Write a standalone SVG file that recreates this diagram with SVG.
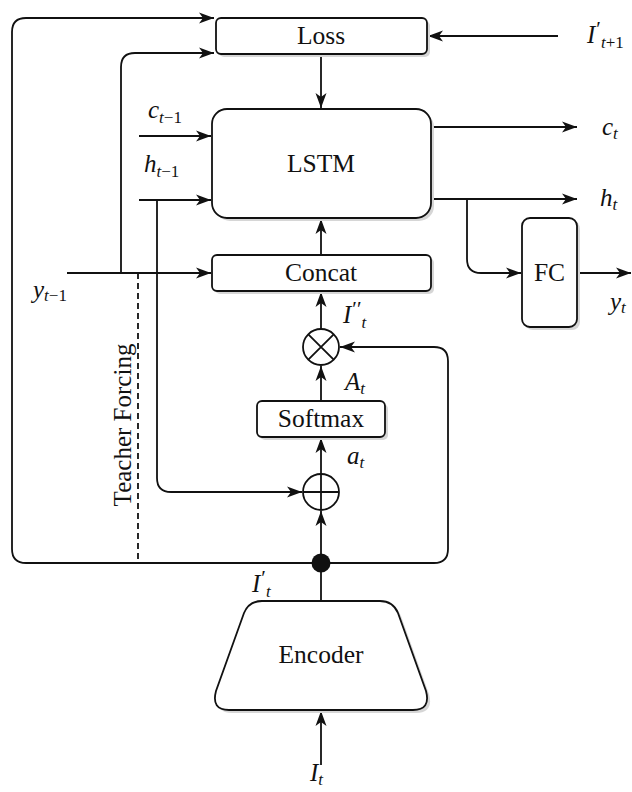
<svg xmlns="http://www.w3.org/2000/svg" width="632" height="792" viewBox="0 0 632 792">
<style>
.box{fill:#fff;stroke:#111;stroke-width:1.8}
.sh{fill:#d6d6d6;stroke:none}
.lbl{font-family:"Liberation Serif","Times New Roman",serif;font-size:25.5px;fill:#111;text-anchor:middle}
.tf{font-family:"Liberation Serif","Times New Roman",serif;font-size:25px;fill:#111;text-anchor:middle}
.m{font-family:"Liberation Serif","Times New Roman",serif;font-style:italic;font-size:25px;fill:#111}
.s{font-size:17px}
.p{font-size:21px;font-style:normal}
.u{font-style:normal}
.c{fill:none;stroke:#111;stroke-width:1.8}
.a{marker-end:url(#arr)}
.d{stroke-dasharray:6 4}
</style>
<defs>
<marker id="arr" markerUnits="userSpaceOnUse" viewBox="0 0 16 12" markerWidth="16" markerHeight="12" refX="15" refY="6" orient="auto">
<path d="M0,0.5 L15,6 L0,11.5 L4,6 Z" fill="#111"/>
</marker>
</defs>
<g id="connectors">
<path class="c a" d="M321,563 H26 Q12,563 12,549 V32 Q12,18 26,18 H214"/>
<path class="c a" d="M321,563 H434 Q448,563 448,549 V361 Q448,347 434,347 H340"/>
<path class="c a" d="M121,273 V67 Q121,53 135,53 H214"/>
<path class="c a" d="M67,273 H211"/>
<path class="c a" d="M139,136 H211"/>
<path class="c a" d="M139,200 H211"/>
<path class="c a" d="M157,200 V478 Q157,492 171,492 H302"/>
<path class="c a" d="M321,54 V108"/>
<path class="c a" d="M321,255 V219"/>
<path class="c a" d="M321,329 V292"/>
<path class="c a" d="M321,401 V366"/>
<path class="c a" d="M321,474 V438"/>
<path class="c a" d="M321,563 V511"/>
<path class="c" d="M321,601 V563"/>
<path class="c a" d="M321,765 V711"/>
<path class="c a" d="M558,36 H428"/>
<path class="c a" d="M431,127 H577"/>
<path class="c a" d="M431,199 H577"/>
<path class="c a" d="M467,199 V259 Q467,273 481,273 H521"/>
<path class="c a" d="M577,273 H631"/>
<path class="c d" d="M138,273 V563"/>
<circle cx="321" cy="563" r="9.5" fill="#111"/>
</g>
<g id="loss">
<rect class="sh" x="219" y="21" width="211" height="36" rx="5"/>
<rect class="box" x="216" y="18" width="211" height="36" rx="5"/>
<text class="lbl" x="321" y="44">Loss</text>
</g>
<g id="lstm">
<rect class="sh" x="215" y="112" width="219" height="109" rx="15"/>
<rect class="box" x="212" y="109" width="219" height="109" rx="15"/>
<text class="lbl" x="321" y="172">LSTM</text>
</g>
<g id="concat">
<rect class="sh" x="215" y="258" width="219" height="36" rx="5"/>
<rect class="box" x="212" y="255" width="219" height="36" rx="5"/>
<text class="lbl" x="321" y="281">Concat</text>
</g>
<g id="fc">
<rect class="sh" x="525" y="221" width="55" height="109" rx="8"/>
<rect class="box" x="522" y="218" width="55" height="109" rx="8"/>
<text class="lbl" x="549.5" y="281">FC</text>
</g>
<g id="mult">
<circle class="box" cx="321" cy="347" r="18"/>
<path class="c" d="M308.3,334.3 L333.7,359.7 M333.7,334.3 L308.3,359.7"/>
</g>
<g id="softmax">
<rect class="sh" x="260" y="404" width="128" height="36" rx="5"/>
<rect class="box" x="257" y="401" width="128" height="36" rx="5"/>
<text class="lbl" x="321" y="427">Softmax</text>
</g>
<g id="add">
<circle class="box" cx="321" cy="492" r="18"/>
<path class="c" d="M303,492 H339 M321,474 V510"/>
</g>
<g id="encoder">
<path class="sh" transform="translate(3,3)" d="M262,601 L380,601 Q393,601 398,613 L426,691 Q431,710 413,710 L229,710 Q211,710 216,691 L244,613 Q249,601 262,601 Z"/>
<path class="box" d="M262,601 L380,601 Q393,601 398,613 L426,691 Q431,710 413,710 L229,710 Q211,710 216,691 L244,613 Q249,601 262,601 Z"/>
<text class="lbl" x="321" y="663">Encoder</text>
</g>
<g id="labels">
<text class="m" x="587" y="43">I<tspan class="p" dx="1" dy="-7">′</tspan><tspan class="s" dy="12">t</tspan><tspan class="s u">+1</tspan></text>
<text class="m" x="148" y="118">c<tspan class="s" dy="5">t</tspan><tspan class="s u">−1</tspan></text>
<text class="m" x="144" y="172">h<tspan class="s" dy="5">t</tspan><tspan class="s u">−1</tspan></text>
<text class="m" x="602" y="135">c<tspan class="s" dy="4">t</tspan></text>
<text class="m" x="600" y="206">h<tspan class="s" dy="4">t</tspan></text>
<text class="m" x="610" y="310">y<tspan class="s" dy="3">t</tspan></text>
<text class="m" x="33" y="298">y<tspan class="s" dy="3">t</tspan><tspan class="s u">−1</tspan></text>
<text class="m" x="343" y="323">I<tspan class="p" dx="1" dy="-7">′′</tspan><tspan class="s" dy="12">t</tspan></text>
<text class="m" x="345" y="390">A<tspan class="s" dy="4">t</tspan></text>
<text class="m" x="347" y="464">a<tspan class="s" dy="4">t</tspan></text>
<text class="m" x="252" y="592">I<tspan class="p" dx="1" dy="-7">′</tspan><tspan class="s" dy="12">t</tspan></text>
<text class="m" x="310" y="781">I<tspan class="s" dy="4">t</tspan></text>
<text class="tf" transform="translate(131,425) rotate(-90)" x="0" y="0">Teacher Forcing</text>
</g>
</svg>
